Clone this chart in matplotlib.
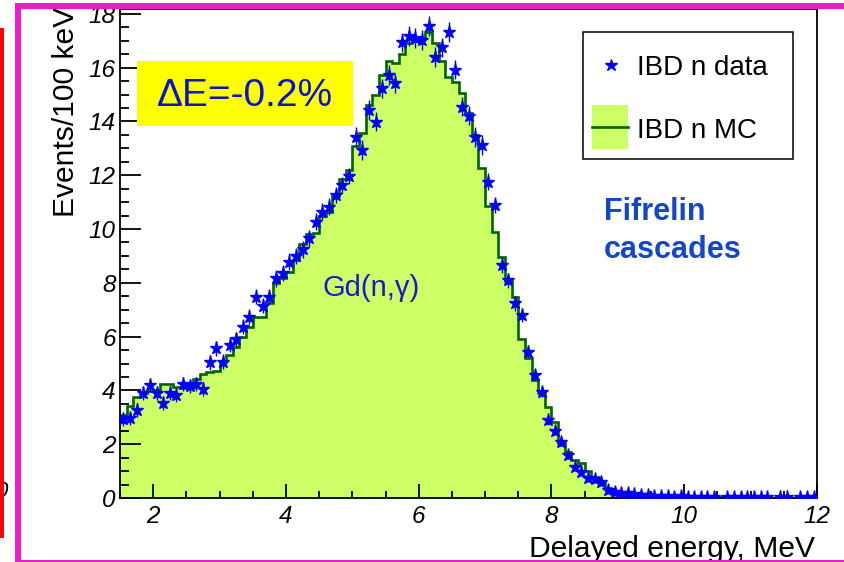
import numpy as np
import matplotlib
matplotlib.use("Agg")
import matplotlib.pyplot as plt
from matplotlib.patches import Rectangle
from matplotlib.lines import Line2D
from matplotlib.ticker import MultipleLocator, FixedLocator

# Binning of the delayed-energy spectrum (MeV)
bin_lo, bin_hi, bin_width = 1.5, 12.0, 0.1

# Simulated neutron-capture spectrum (events / 100 keV), one value per bin
mc_counts = [
    3.10, 3.43, 3.77, 3.92, 3.97, 4.00, 4.22, 4.22, 4.14, 4.10,
    4.26, 4.42, 4.60, 4.70, 4.72, 5.05, 5.32, 5.60, 6.00, 6.37,
    6.74, 6.74, 7.24, 7.98, 8.17, 8.40, 8.85, 9.43, 9.80, 9.84,
    10.50, 10.65, 11.23, 11.85, 12.19, 13.08, 13.56, 14.60, 14.98, 15.72,
    16.26, 16.16, 16.50, 16.90, 17.00, 17.15, 17.33, 16.90, 16.26, 15.66,
    15.48, 15.04, 14.30, 13.50, 12.26, 10.87, 9.88, 8.97, 8.05, 7.46,
    5.92, 5.22, 4.39, 3.92, 3.39, 2.82, 2.05, 1.70, 1.40, 1.30,
    1.00, 0.78, 0.60, 0.38, 0.22, 0.14, 0.10, 0.08, 0.07, 0.06,
    0.05, 0.05, 0.04, 0.04, 0.035, 0.03, 0.03, 0.025, 0.025, 0.02,
    0.02, 0.02, 0.015, 0.015, 0.015, 0.01, 0.01, 0.01, 0.01, 0.01,
    0.008, 0.008, 0.008, 0.005, 0.005,
]

# Measured IBD neutron candidates (events / 100 keV); nan = empty bin
data_counts = [
    2.93, 2.96, 3.27, 3.89, 4.19, 3.89, 3.53, 3.92, 3.83, 4.25,
    4.16, 4.22, 4.07, 5.05, 5.57, 5.07, 5.69, 5.90, 6.37, 6.74,
    7.48, 7.14, 7.48, 8.17, 8.37, 8.79, 9.00, 9.25, 9.65, 10.27,
    10.64, 10.83, 11.26, 11.64, 11.97, 13.43, 12.94, 14.42, 13.99, 15.23,
    15.72, 15.42, 16.94, 17.17, 17.10, 17.03, 17.55, 16.40, 16.75, 17.33,
    15.93, 14.55, 14.22, 13.42, 13.12, 11.76, 10.90, 8.66, 8.10, 7.24,
    6.80, 5.44, 4.57, 3.95, 2.90, 2.50, 2.09, 1.60, 1.16, 0.98,
    0.73, 0.69, 0.60, 0.30, 0.24, 0.20, 0.17, 0.15, 0.12, 0.10,
    0.08, 0.06, 0.07, 0.05, 0.06, 0.05, 0.04, 0.05, 0.03, 0.04,
    np.nan, 0.03, 0.04, 0.03, 0.03, 0.02, 0.03, 0.02, np.nan, 0.02,
    0.03, np.nan, 0.02, 0.02, 0.03,
]

# Statistical uncertainties of the measured spectrum
data_err = [
    0.24, 0.24, 0.25, 0.26, 0.26, 0.26, 0.26, 0.26, 0.26, 0.26,
    0.26, 0.26, 0.26, 0.28, 0.28, 0.28, 0.28, 0.28, 0.28, 0.28,
    0.28, 0.28, 0.28, 0.31, 0.31, 0.31, 0.31, 0.31, 0.31, 0.31,
    0.31, 0.31, 0.31, 0.31, 0.31, 0.36, 0.36, 0.36, 0.36, 0.36,
    0.36, 0.36, 0.36, 0.36, 0.36, 0.36, 0.36, 0.36, 0.36, 0.36,
    0.36, 0.36, 0.36, 0.36, 0.36, 0.31, 0.30, 0.29, 0.28, 0.27,
    0.27, 0.25, 0.23, 0.21, 0.19, 0.17, 0.16, 0.14, 0.12, 0.11,
    0.10, 0.09, 0.09, 0.07, 0.07, 0.06, 0.06, 0.05, 0.04, 0.04,
    0.04, 0.04, 0.04, 0.04, 0.04, 0.04, 0.04, 0.04, 0.04, 0.04,
    0.04, 0.04, 0.04, 0.04, 0.04, 0.04, 0.04, 0.04, 0.04, 0.04,
    0.04, 0.04, 0.04, 0.04, 0.04,
]

x_ticks = [2, 4, 6, 8, 10, 12]
y_ticks = [0, 2, 4, 6, 8, 10, 12, 14, 16, 18]
x_label = "Delayed energy, MeV"
y_label = "Events/100 keV"
legend_labels = ["IBD n data", "IBD n MC"]
shift_text = "\u0394E=-0.2%"
capture_text = "Gd(n,\u03b3)"
model_lines = ["Fifrelin", "cascades"]

W, H = 844, 562
fig = plt.figure(figsize=(W / 100, H / 100), dpi=100)
fig.patch.set_facecolor("white")


def fx(px):
    return px / W


def fy(py):
    return 1 - py / H


ax = fig.add_axes([fx(120), fy(498), (817 - 120) / W, (498 - 9) / H])

n_bins = int(round((bin_hi - bin_lo) / bin_width))
edges = bin_lo + bin_width * np.arange(n_bins + 1)
centers = edges[:-1] + bin_width / 2

mc_fill = "#ccff66"
mc_line = "#006400"
data_col = "#0000ff"

ax.stairs(mc_counts, edges, fill=True, color=mc_fill, zorder=1)
ax.stairs(mc_counts, edges, color=mc_line, linewidth=1.9, baseline=None, zorder=2)
ax.errorbar(centers, data_counts, yerr=data_err, fmt="*", color=data_col,
            ms=9.5, mec=data_col, elinewidth=1.0, capsize=0, zorder=3)

ax.set_xlim(bin_lo, bin_hi)
ax.set_ylim(0, 18.18)
ax.xaxis.set_major_locator(FixedLocator(x_ticks))
ax.yaxis.set_major_locator(FixedLocator(y_ticks))
ax.xaxis.set_minor_locator(MultipleLocator(0.5))
ax.yaxis.set_minor_locator(MultipleLocator(0.5))
ax.tick_params(axis="both", which="both", direction="in", top=False, right=False,
               width=1.3, color="black")
ax.tick_params(axis="x", which="major", length=10, pad=5)
ax.tick_params(axis="x", which="minor", length=5)
ax.tick_params(axis="y", which="major", length=15, pad=3)
ax.tick_params(axis="y", which="minor", length=6.5)
for lab in ax.get_xticklabels() + ax.get_yticklabels():
    lab.set_fontfamily("Liberation Sans")
    lab.set_fontstyle("italic")
    lab.set_fontsize(17.5)
for sp in ax.spines.values():
    sp.set_linewidth(1.3)
    sp.set_color("black")

# Axis titles, aligned to the axis ends
fig.text(fx(815), fy(557), x_label, ha="right", va="baseline",
         fontsize=21.6, family="Liberation Sans")
fig.text(fx(66), fy(7), y_label, ha="center", va="top", rotation=90,
         fontsize=21.6, family="Liberation Sans")

# Energy-scale shift box
fig.patches.append(Rectangle((fx(137), fy(126)), (353 - 137) / W, (126 - 61) / H,
                             transform=fig.transFigure, facecolor="#ffff00",
                             edgecolor="none", zorder=5))
fig.text(fx(245), fy(106), shift_text, ha="center", va="baseline",
         fontsize=28, color="#0a14c8", family="Liberation Sans", zorder=6)

ax.text(0.36, 0.43, capture_text, transform=ax.transAxes, ha="center", va="center",
        fontsize=21, color="#1a1acc", family="Liberation Sans")
fig.text(fx(604), fy(220), model_lines[0], ha="left", va="baseline",
         fontsize=22, fontweight="bold", color="#1446c8", family="Liberation Sans")
fig.text(fx(604), fy(258), model_lines[1], ha="left", va="baseline",
         fontsize=22, fontweight="bold", color="#1446c8", family="Liberation Sans")

# Legend box
fig.patches.append(Rectangle((fx(583), fy(159)), (793 - 583) / W, (159 - 32) / H,
                             transform=fig.transFigure, facecolor="white",
                             edgecolor="black", linewidth=1.1, zorder=5))
fig.lines.append(Line2D([fx(611)], [fy(65)], transform=fig.transFigure, marker="*",
                        ms=9, color=data_col, linestyle="none", zorder=6))
fig.patches.append(Rectangle((fx(592), fy(149)), (628 - 592) / W, (149 - 105) / H,
                             transform=fig.transFigure, facecolor=mc_fill,
                             edgecolor="none", zorder=6))
fig.lines.append(Line2D([fx(592), fx(628)], [fy(127), fy(127)], transform=fig.transFigure,
                        color=mc_line, linewidth=1.9, zorder=7))
fig.text(fx(637), fy(75), legend_labels[0], ha="left", va="baseline", fontsize=20,
         family="Liberation Sans", zorder=7)
fig.text(fx(637), fy(138), legend_labels[1], ha="left", va="baseline", fontsize=20,
         family="Liberation Sans", zorder=7)

# Slide frame around the plot
frame_col = "#e81ec8"
fig.patches.append(Rectangle((fx(15), fy(8.5)), 1 - fx(15), 5.5 / H,
                             transform=fig.transFigure, facecolor=frame_col,
                             edgecolor="none", zorder=8))
fig.patches.append(Rectangle((fx(15), 0), 5.5 / W, fy(3),
                             transform=fig.transFigure, facecolor=frame_col,
                             edgecolor="none", zorder=8))
fig.patches.append(Rectangle((fx(15), 0), 1 - fx(15), 2.5 / H,
                             transform=fig.transFigure, facecolor=frame_col,
                             edgecolor="none", zorder=8))
fig.patches.append(Rectangle((0, fy(538)), 3.5 / W, (538 - 28) / H,
                             transform=fig.transFigure, facecolor="#ff0000",
                             edgecolor="none", zorder=8))
fig.text(fx(7), fy(497), "0", ha="right", va="baseline", fontsize=16,
         style="italic", family="Liberation Sans")

fig.savefig("out.png", dpi=100)
